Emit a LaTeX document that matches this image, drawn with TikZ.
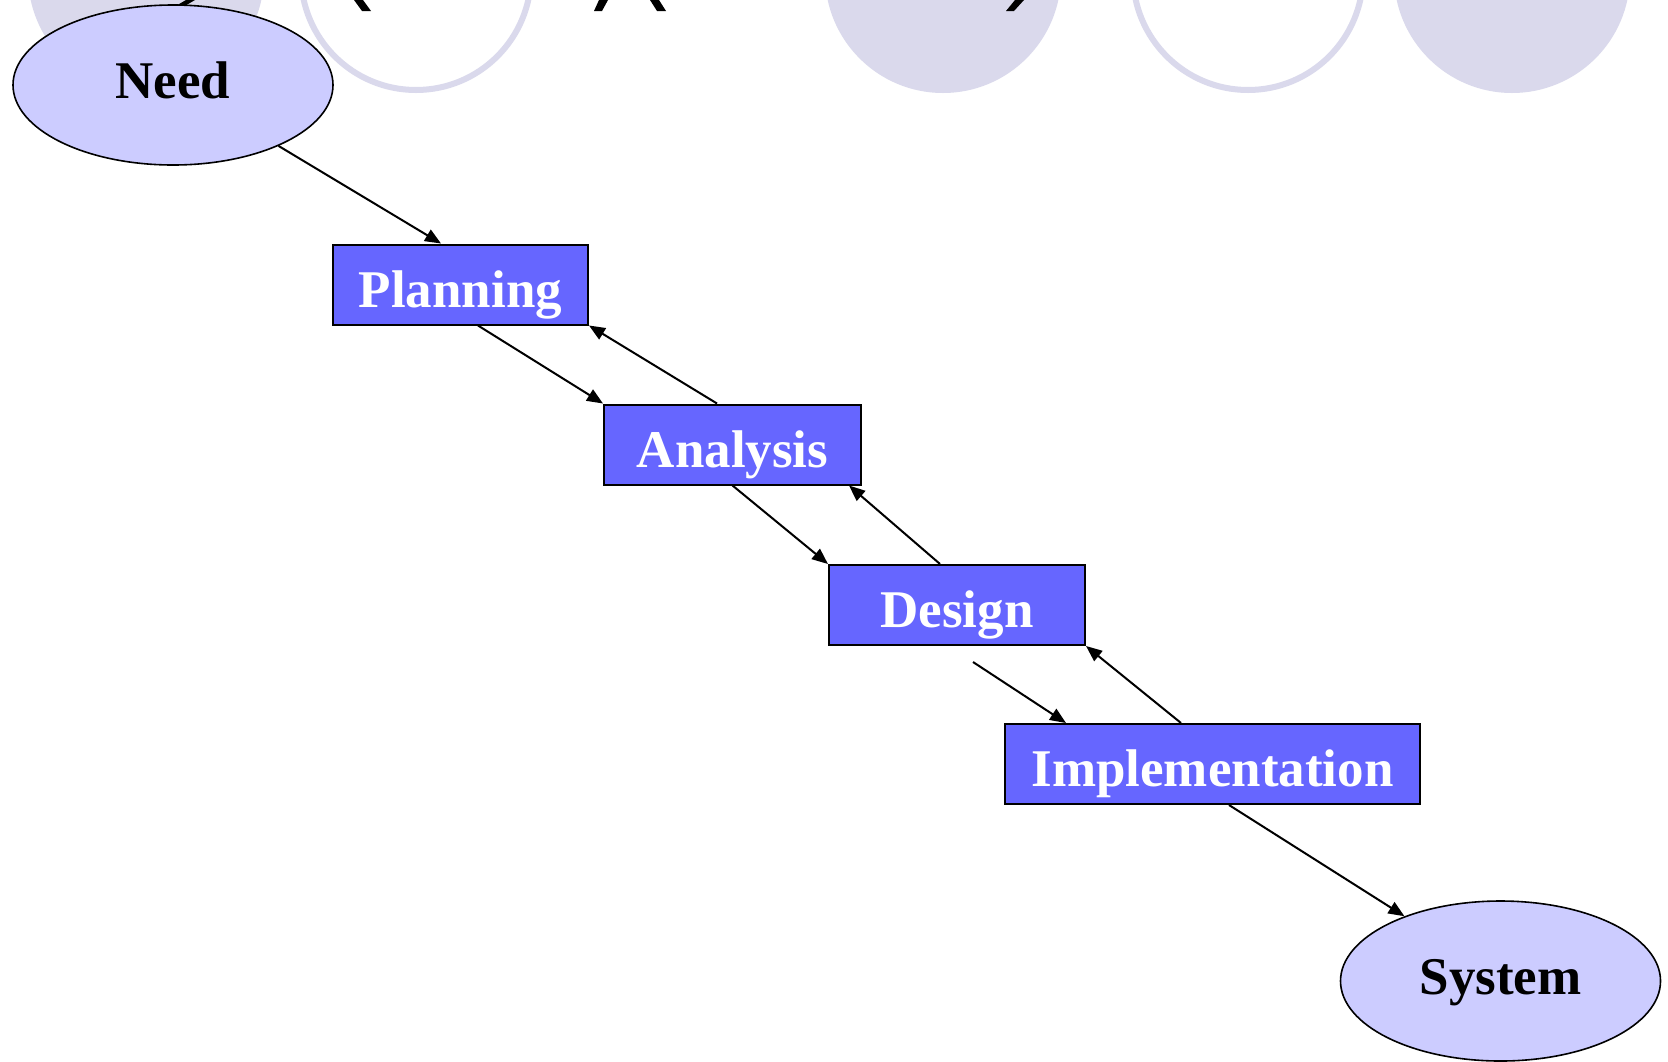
\documentclass[tikz,border=0pt]{standalone}
\usepackage{fontspec}
\setmainfont{Liberation Serif}
\usetikzlibrary{shapes.geometric,arrows.meta,positioning}
\definecolor{boxblue}{HTML}{6666FF}
\definecolor{ovallilac}{HTML}{CCCCFF}
\definecolor{decor}{HTML}{DAD9EC}

\begin{document}
\begin{tikzpicture}[x=0.5pt,y=-0.5pt,
  phase/.style={rectangle, draw=black, line width=1pt, fill=boxblue, text=white,
    font=\fontsize{26.5}{30}\selectfont\bfseries, text height=24pt, text depth=1.5pt,
    minimum height=40pt, minimum width=#1, inner sep=0pt},
  endpt/.style={ellipse, draw=black, line width=0.8pt, fill=ovallilac,
    font=\fontsize{26.5}{30}\selectfont\bfseries, text height=16pt, text depth=3pt,
    minimum width=160pt, minimum height=80pt, inner sep=0pt},
  arr/.style={-{Triangle[length=8pt,width=6.5pt]}, black, line width=1pt}
]
  \useasboundingbox (0,0) rectangle (1668,1061);
  \fill[white] (0,0) rectangle (1668,1061);

  % slide decoration, cut by the top edge
  \begin{scope}
    \clip (0,0) rectangle (1668,1061);
    \fill[decor] (146,-25) circle[radius=59pt];
    \draw[decor, line width=3pt] (416,-25) circle[radius=57.5pt];
    \fill[decor] (943,-25) circle[radius=59pt];
    \draw[decor, line width=3pt] (1248,-25) circle[radius=57.5pt];
    \fill[decor] (1512,-25) circle[radius=59pt];
    \fill[black] (186,0) -- (195,0) -- (183,7) -- (174,7) -- cycle;
    \fill[black] (354,0) -- (363,0) -- (371,11) -- (362,11) -- cycle;
    \fill[black] (599,0) -- (608,0) -- (602,11) -- (594,11) -- cycle;
    \fill[black] (650,0) -- (659,0) -- (666,11) -- (657,11) -- cycle;
    \fill[black] (1015,0) -- (1024,0) -- (1014,11) -- (1006,11) -- cycle;
  \end{scope}

  \node[endpt] (need) at (173,85) {Need};
  \node[phase=127.5pt] (plan) at (460.5,284.5) {Planning};
  \node[phase=128.5pt] (ana) at (732.5,444.5) {Analysis};
  \node[phase=128pt] (des) at (957,605) {Design};
  \node[phase=207.5pt] (imp) at (1212.5,764) {Implementation};
  \node[endpt] (sys) at (1500.5,981) {System};

  \draw[arr] (need.-30) -- ([xshift=-9.75pt]plan.north);
  \draw[arr] ([xshift=8.75pt]plan.south) -- (ana.north west);
  \draw[arr] ([xshift=-7.75pt]ana.north) -- (plan.south east);
  \draw[arr] (ana.south) -- (des.north west);
  \draw[arr] ([xshift=-8.5pt]des.north) -- ([xshift=-6.5pt]ana.south east);
  \draw[arr] ([shift={(8pt,-8pt)}]des.south) -- ([xshift=31pt]imp.north west);
  \draw[arr] ([xshift=-15.75pt]imp.north) -- (des.south east);
  \draw[arr] ([xshift=8.25pt]imp.south) -- (sys.146);
\end{tikzpicture}
\end{document}
